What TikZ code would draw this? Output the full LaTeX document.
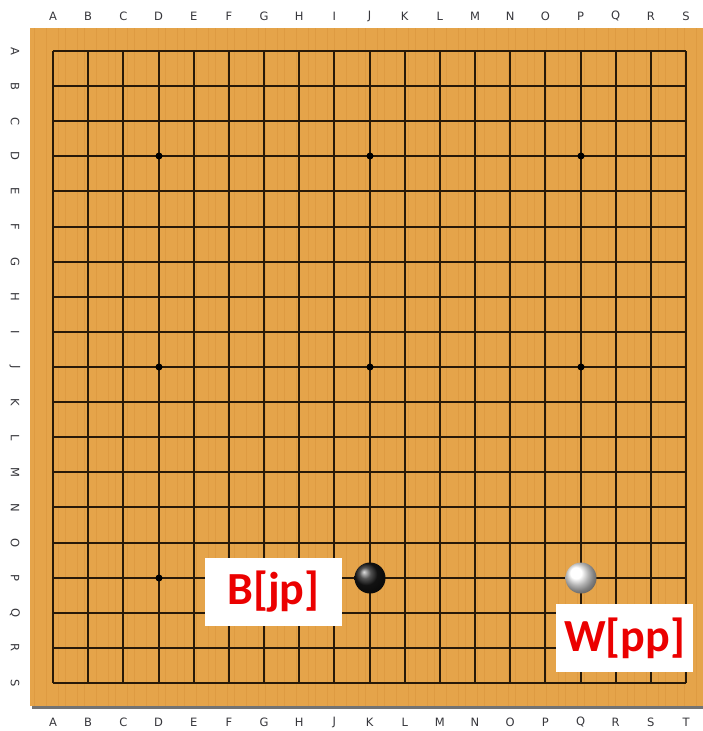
\documentclass[tikz,border=0pt]{standalone}
\usepackage{fontspec}
\setmainfont{DejaVu Sans}
\newfontfamily\labfont{Carlito}
\definecolor{wood}{RGB}{229,164,74}
\definecolor{woodgrain}{RGB}{222,155,66}
\definecolor{gridc}{RGB}{40,25,8}
\definecolor{coordc}{RGB}{55,55,60}
\definecolor{labred}{RGB}{235,0,0}
\begin{document}
\begin{tikzpicture}[x=1pt,y=-1pt,
  gridline/.style={draw=gridc,line width=1.6pt},
  coordlab/.style={text=coordc,font=\fontsize{11.5}{11.5}\selectfont,inner sep=0pt},
  moveLabel/.style={fill=white,text=labred,font=\labfont\bfseries\fontsize{46}{46}\selectfont,minimum width=137pt,minimum height=68pt,inner sep=0pt},
  hoshi/.style={circle,fill=black,inner sep=0pt,minimum size=7pt},
  blackstone/.style={circle,inner sep=0pt,minimum size=31pt,ball color=black!90,shading=ball},
  whitestone/.style={circle,inner sep=0pt,minimum size=31pt,ball color=white,shading=ball}]
\useasboundingbox (0,0) rectangle (703,731);
\fill[white] (0,0) rectangle (703,731);
\fill[black!55] (32,706) rectangle (703,709);
\fill[wood] (30,28) rectangle (703,706);
\foreach \g in {0,...,66}{
  \pgfmathsetmacro{\gx}{34.5+\g*10+mod(\g*7,5)}
  \draw[woodgrain,line width=1pt] (\gx,28) -- (\gx,706);
}
\def\dx{35.17}
\def\dy{35.11}
\foreach \i in {0,...,18}{
  \pgfmathsetmacro{\xx}{round(53+\i*\dx)}
  \pgfmathsetmacro{\yy}{round(51+\i*\dy)}
  \draw[gridline] (\xx,51) -- (\xx,683);
  \draw[gridline] (53,\yy) -- (686,\yy);
}
\foreach \a in {3,9,15}{
  \foreach \b in {3,9,15}{
    \pgfmathsetmacro{\xx}{round(53+\a*\dx)}
    \pgfmathsetmacro{\yy}{round(51+\b*\dy)}
    \node[hoshi] (h\a-\b) at (\xx,\yy) {};
  }
}
\foreach \l [count=\i from 0] in {A,B,C,D,E,F,G,H,I,J,K,L,M,N,O,P,Q,R,S}{
  \pgfmathsetmacro{\xx}{53+\i*\dx}
  \node[coordlab] (top\i) at (\xx,16) {\l};
}
\foreach \l [count=\i from 0] in {A,B,C,D,E,F,G,H,J,K,L,M,N,O,P,Q,R,S,T}{
  \pgfmathsetmacro{\xx}{53+\i*\dx}
  \node[coordlab] (bot\i) at (\xx,722) {\l};
}
\foreach \l [count=\i from 0] in {A,B,C,D,E,F,G,H,I,J,K,L,M,N,O,P,Q,R,S}{
  \pgfmathsetmacro{\yy}{51+\i*\dy}
  \node[coordlab,rotate=-90] (left\i) at (15,\yy) {\l};
}
\node[blackstone] (bstone) at (370,578) {};
\node[whitestone] (wstone) at (581,578) {};
\node[moveLabel] (blab) at (273.5,592) {B[jp]};
\node[moveLabel] (wlab) at (624.5,638) {W[pp]};
\end{tikzpicture}
\end{document}
